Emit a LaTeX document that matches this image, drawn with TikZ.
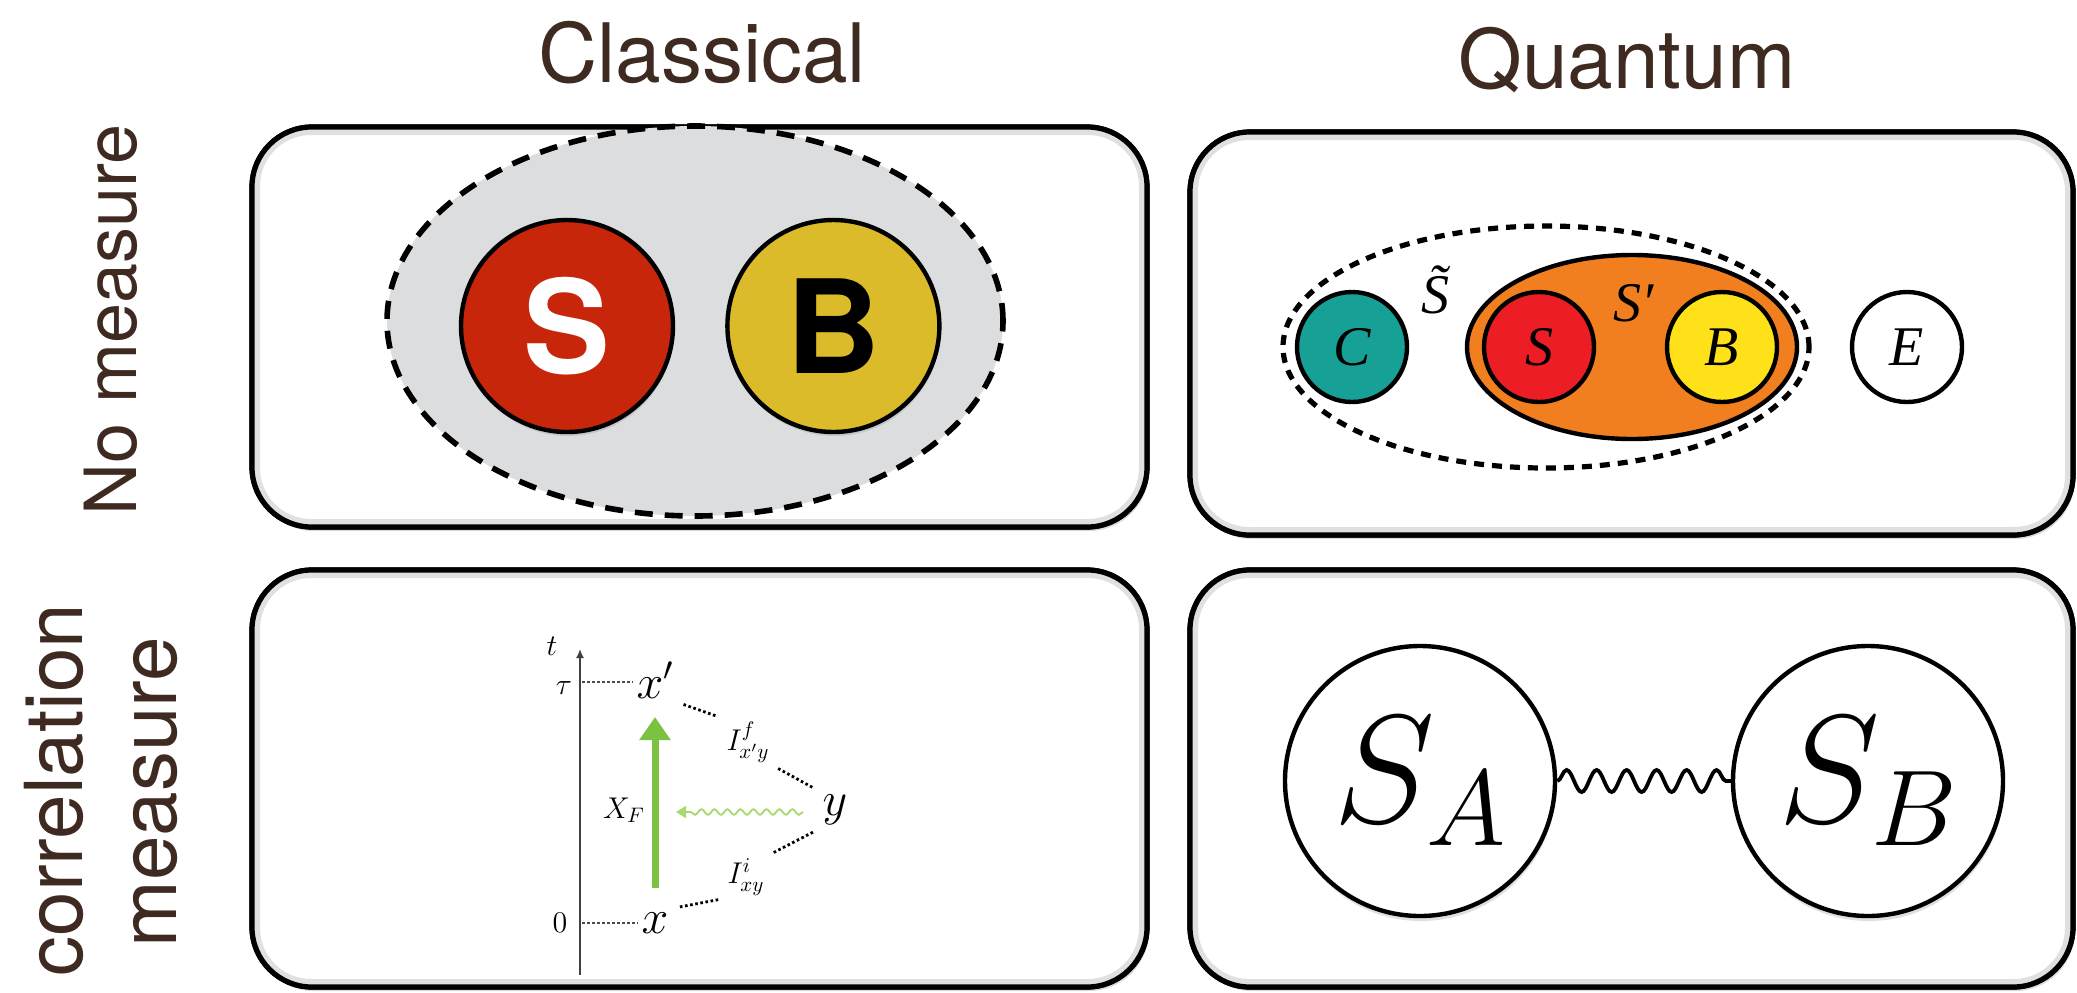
\RequirePackage{fix-cm}
\documentclass[tikz,border=0pt]{standalone}
\usepackage{fontspec}
\newfontfamily\headfont{TeX Gyre Heros}
\newfontfamily\serifit{Liberation Serif}
\usepackage{tikz}
\usetikzlibrary{arrows.meta,positioning,shapes.geometric,decorations.pathmorphing,shadows}
\definecolor{labelbrown}{HTML}{3E2A21}
\definecolor{blobgray}{HTML}{DCDDDF}
\definecolor{sysred}{HTML}{C8260A}
\definecolor{bathyellow}{HTML}{DBBB29}
\definecolor{qteal}{HTML}{16A096}
\definecolor{qorange}{HTML}{F27F1F}
\definecolor{qred}{HTML}{EC1D25}
\definecolor{qyellow}{HTML}{FFE11A}
\definecolor{flowgreen}{HTML}{7CC242}
\definecolor{wavegreen}{HTML}{A9D86E}
\tikzset{
  % Base styles
  diagram base/.style={x=0.5pt, y=-0.5pt, >=Latex, every node/.style={inner sep=0pt}},
  % Panels
  panel box/.style={draw, line width=2.6pt, rounded corners=30pt, fill=white,
    drop shadow={shadow xshift=1pt, shadow yshift=-2pt, opacity=0.3}},
  panel glow/.style={draw=black!12, line width=3pt, rounded corners=27pt},
  panel edge/.style={line width=2.6pt, rounded corners=30pt},
  % Row and column labels
  head label/.style={font=\headfont\fontsize{41}{48}\selectfont, text=labelbrown, anchor=base},
  side label/.style={font=\headfont\fontsize{40}{46}\selectfont, text=labelbrown, anchor=base, rotate=90},
  % Classical, no measure
  classic blob/.style={ellipse, draw, line width=2.8pt, dash pattern=on 9pt off 6pt, fill=blobgray,
    minimum width=308pt, minimum height=195pt},
  classic node/.style={circle, draw, line width=2.2pt, minimum size=106pt,
    font=\headfont\bfseries\fontsize{65}{70}\selectfont,
    drop shadow={shadow xshift=0.5pt, shadow yshift=-2pt, opacity=0.25}},
  % Quantum, no measure
  quantum blob/.style={ellipse, draw, line width=2.6pt, dash pattern=on 5pt off 4pt,
    minimum width=263pt, minimum height=121pt},
  sub blob/.style={ellipse, draw, line width=2.2pt, fill=qorange, minimum width=165pt, minimum height=92pt},
  quantum node/.style={circle, draw, line width=2.2pt, minimum size=55pt,
    font=\serifit\itshape\fontsize{28}{32}\selectfont},
  quantum tag/.style={font=\serifit\itshape\fontsize{28}{32}\selectfont},
  % Classical, correlation measure
  time axis/.style={line width=0.8pt, draw=black!75, -{Latex[length=4.5pt,width=4pt]}},
  tick line/.style={line width=0.6pt, dash pattern=on 1.5pt off 1pt, draw=black!70},
  info line/.style={line width=1.4pt, dash pattern=on 1.3pt off 1.3pt, shorten <=3pt, shorten >=3pt},
  state label/.style={font=\fontsize{24}{28}\selectfont, inner sep=2pt},
  small label/.style={font=\fontsize{15}{18}\selectfont, inner sep=1.5pt},
  flow arrow/.style={draw=flowgreen, line width=3.5pt, -{Triangle[length=11.5pt,width=15pt]}},
  wave arrow/.style={draw=wavegreen, line width=0.9pt, -{Triangle[length=5pt,width=6pt]}, decorate,
    decoration={snake, amplitude=1.4pt, segment length=6.5pt, post length=5pt}},
  % Quantum, correlation measure
  subsystem node/.style={circle, draw, line width=2.2pt, fill=white, minimum size=135pt,
    font=\fontsize{77}{80}\selectfont,
    drop shadow={shadow xshift=0.5pt, shadow yshift=-2.5pt, opacity=0.25}},
  coupling/.style={line width=1.9pt, decorate, decoration={snake, amplitude=5.5pt, segment length=15pt}},
}

\begin{document}
\begin{tikzpicture}[diagram base]
  \useasboundingbox (0,0) rectangle (2077,992);

  % panels
  \draw[panel box] (252,127) rectangle (1147,527);
  \draw[panel box] (1190,132) rectangle (2073,535);
  \draw[panel box] (252,570) rectangle (1147,987);
  \draw[panel box] (1190,570) rectangle (2073,987);
  \draw[panel glow] (257,132) rectangle (1142,522);
  \draw[panel glow] (1195,137) rectangle (2068,530);
  \draw[panel glow] (257,575) rectangle (1142,982);
  \draw[panel glow] (1195,575) rectangle (2068,982);
  \draw[panel edge] (252,127) rectangle (1147,527);
  \draw[panel edge] (1190,132) rectangle (2073,535);
  \draw[panel edge] (252,570) rectangle (1147,987);
  \draw[panel edge] (1190,570) rectangle (2073,987);

  % headings
  \node[head label] (classical) at (702,82) {Classical};
  \node[head label] (quantum) at (1627,88) {Quantum};
  \node[side label, font=\headfont\fontsize{36}{42}\selectfont] (nomeasure) at (136,320) {No measure};
  \node[side label] (corr) at (82,790) {correlation};
  \node[side label] (meas) at (176,792) {measure};

  % classical, no measure
  \node[classic blob] (blob) at (695,321) {};
  \node[classic node, fill=sysred, text=white] (sys) at (567,326) {S};
  \node[classic node, fill=bathyellow, right=25pt of sys] (bath) {B};

  % quantum, no measure
  \node[quantum blob] (stilde) at (1546,347) {};
  \node[quantum node, fill=qteal] (qc) at (1352,347) {C};
  \node[sub blob] (sprime) at (1632,347) {};
  \node[quantum node, fill=qred] (qs) at (1539,347) {S};
  \node[quantum node, fill=qyellow] (qb) at (1722,347) {B};
  \node[quantum node, fill=white] (qe) at (1907,347) {E};
  \node[quantum tag] (stildetag) at (1435,290) {\~{S}};
  \node[quantum tag] (sprimetag) at (1634,303) {S′};

  % classical, correlation measure
  \coordinate (tfoot) at (580,975);
  \coordinate (thead) at (580,649);
  \draw[time axis] (tfoot) -- (thead);
  \node[small label] (tname) at (552,646) {$t$};
  \node[small label] (taumark) at (564,688) {$\tau$};
  \node[small label] (zeromark) at (560,923) {$0$};
  \node[state label] (xfin) at (655,680) {$x'$};
  \node[state label] (xini) at (655,923) {$x$};
  \node[state label] (yext) at (835,810) {$y$};
  \node[small label] (ifinal) at (748,742) {$I^{f}_{x'y}$};
  \node[small label] (iinit) at (746,877) {$I^{i}_{xy}$};
  \node[small label] (xflow) at (624,810) {$X_F$};
  \coordinate (taupt) at (582,682);
  \coordinate (zeropt) at (582,923);
  \draw[tick line] (taupt) -- (taupt -| xfin.west);
  \draw[tick line] (zeropt) -- (zeropt -| xini.west);
  \draw[info line] (xfin.south east) -- (ifinal.north west);
  \draw[info line] (ifinal.south east) -- (yext.north west);
  \draw[info line] (yext.south west) -- (iinit.north east);
  \draw[info line] (iinit.south west) -- (xini.north east);
  \draw[flow arrow, shorten <=17.5pt, shorten >=18.5pt] (xini.center) -- (xfin.center);
  \coordinate (wavefrom) at (803,812);
  \coordinate (waveto) at (676,812);
  \draw[wave arrow] (wavefrom) -- (waveto);

  % quantum, correlation measure
  \node[subsystem node] (sysa) at (1420,781) {$S_A$};
  \node[subsystem node] (sysb) at (1868,781) {$S_B$};
  \draw[coupling] (sysa) -- (sysb);
\end{tikzpicture}
\end{document}
